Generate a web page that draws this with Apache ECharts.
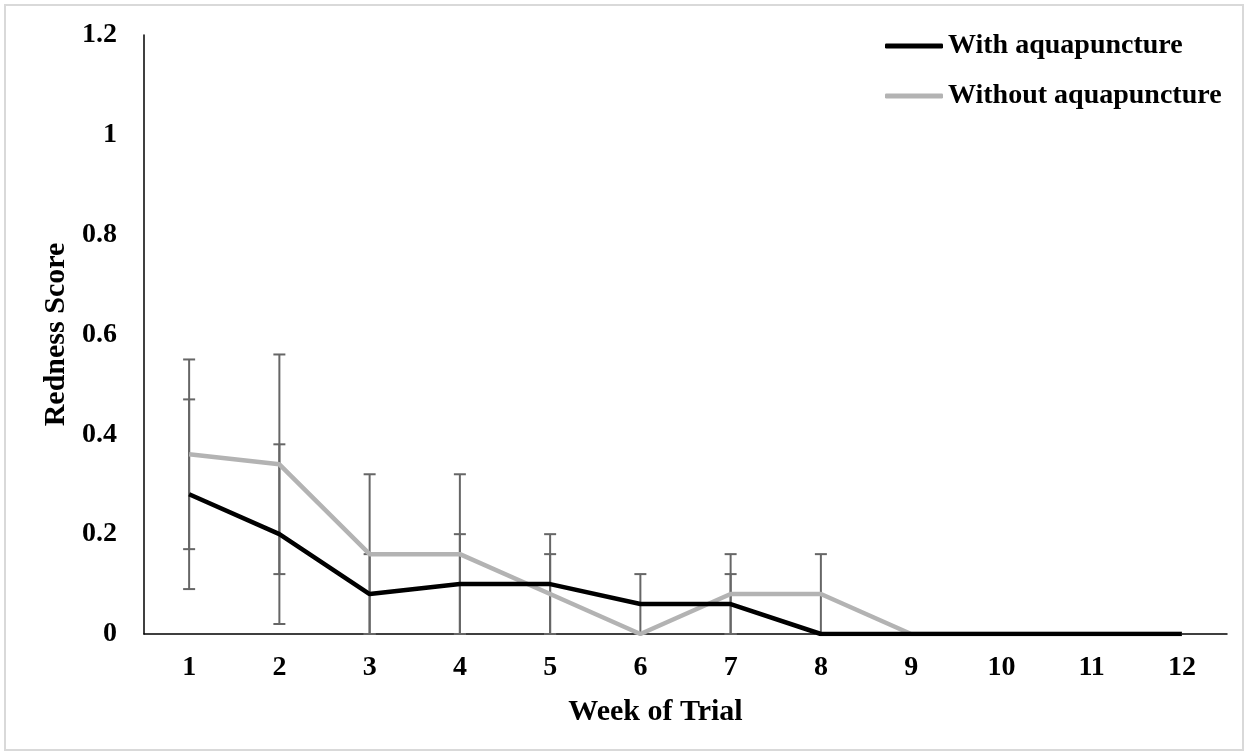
<!DOCTYPE html>
<html>
<head>
<meta charset="utf-8">
<script src="https://cdn.jsdelivr.net/npm/echarts@6/dist/echarts.min.js"></script>
<style>html,body{margin:0;padding:0;background:#fff;}#c{width:1249px;height:756px;}</style>
</head>
<body>
<div id="c"></div>
<script>
var weeks = ['1','2','3','4','5','6','7','8','9','10','11','12'];
var withMean = [0.28, 0.20, 0.08, 0.10, 0.10, 0.06, 0.06, 0, 0, 0, 0, 0];
var withErr = [0.19, 0.18, 0.08, 0.10, 0.10, 0.06, 0.06, 0, 0, 0, 0, 0];
var withoutMean = [0.36, 0.34, 0.16, 0.16, 0.08, 0, 0.08, 0.08, 0, 0, 0, 0];
var withoutErr = [0.19, 0.22, 0.16, 0.16, 0.08, 0, 0.08, 0.08, 0, 0, 0, 0];
var yTicks = { min: 0, max: 1.2, interval: 0.2 };

function errData(mean, err) {
  var out = [];
  for (var i = 0; i < mean.length; i++) {
    if (err[i] > 0) out.push([i, Math.max(0, mean[i] - err[i]), mean[i] + err[i]]);
  }
  return out;
}
var errAll = errData(withMean, withErr).concat(errData(withoutMean, withoutErr));

var FONT = '"Liberation Serif", "Times New Roman", serif';
var chart = echarts.init(document.getElementById('c'), null, { renderer: 'canvas' });
chart.setOption({
  animation: false,
  backgroundColor: '#fff',
  graphic: [{
    type: 'rect', shape: { x: 5, y: 5, width: 1238, height: 745 },
    style: { fill: 'none', stroke: '#d9d9d9', lineWidth: 2 }, silent: true, z: -1
  }],
  grid: { left: 144, right: 22, top: 35, bottom: 122 },
  legend: {
    orient: 'vertical', left: 880, top: 27, itemGap: 22,
    icon: 'roundRect', itemWidth: 58, itemHeight: 5,
    textStyle: { fontFamily: FONT, fontWeight: 'bold', fontSize: 28, lineHeight: 28, color: '#000' },
    data: [
      { name: 'With aquapuncture', itemStyle: { color: '#000' } },
      { name: 'Without aquapuncture', itemStyle: { color: '#b3b3b3' } }
    ]
  },
  xAxis: {
    type: 'category', data: weeks, boundaryGap: true,
    name: 'Week of Trial', nameLocation: 'middle', nameGap: 63,
    nameTextStyle: { fontFamily: FONT, fontWeight: 'bold', fontSize: 30, color: '#000', padding: [0, 60, 0, 0] },
    axisLine: { lineStyle: { color: '#000', width: 1.5 } },
    axisTick: { show: false },
    axisLabel: { fontFamily: FONT, fontWeight: 'bold', fontSize: 28, color: '#000', margin: 20 },
    splitLine: { show: false }
  },
  yAxis: {
    type: 'value', min: yTicks.min, max: yTicks.max, interval: yTicks.interval,
    name: 'Redness Score', nameLocation: 'middle', nameGap: 73, nameRotate: 90,
    nameTextStyle: { fontFamily: FONT, fontWeight: 'bold', fontSize: 30, color: '#000' },
    axisLine: { show: true, lineStyle: { color: '#000', width: 1.5 } },
    axisTick: { show: false },
    axisLabel: { fontFamily: FONT, fontWeight: 'bold', fontSize: 28, color: '#000', margin: 27,
      formatter: function (v) { return String(Math.round(v * 10) / 10); } },
    splitLine: { show: false }
  },
  series: [
    {
      type: 'custom', name: 'err', z: 1, data: errAll,
      encode: { x: 0, y: [1, 2] },
      renderItem: function (params, api) {
        var x = api.value(0), lo = api.value(1), hi = api.value(2);
        var p1 = api.coord([x, hi]), p2 = api.coord([x, lo]);
        var w = 6, st = { stroke: '#666', lineWidth: 2 };
        return { type: 'group', children: [
          { type: 'line', shape: { x1: p1[0], y1: p1[1], x2: p2[0], y2: p2[1] }, style: st },
          { type: 'line', shape: { x1: p1[0] - w, y1: p1[1], x2: p1[0] + w, y2: p1[1] }, style: st },
          { type: 'line', shape: { x1: p2[0] - w, y1: p2[1], x2: p2[0] + w, y2: p2[1] }, style: st }
        ] };
      }
    },
    {
      type: 'line', name: 'With aquapuncture', data: withMean, z: 3,
      showSymbol: false, symbol: 'none',
      lineStyle: { color: '#000', width: 4.5 }, itemStyle: { color: '#000' }
    },
    {
      type: 'line', name: 'Without aquapuncture', data: withoutMean, z: 2,
      showSymbol: false, symbol: 'none',
      lineStyle: { color: '#b3b3b3', width: 4.5 }, itemStyle: { color: '#b3b3b3' }
    }
  ]
});
</script>
</body>
</html>
